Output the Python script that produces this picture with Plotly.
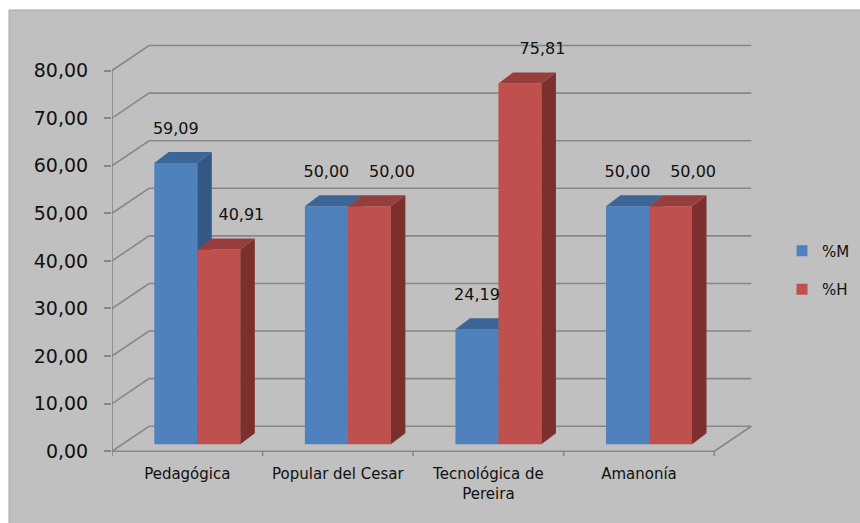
import plotly.graph_objects as go

# ---------------- data ----------------
categories = ["Pedagógica", "Popular del Cesar", "Tecnológica de<br>Pereira", "Amanonía"]
series_names = ["%M", "%H"]
values_M = [59.09, 50.00, 24.19, 50.00]
values_H = [40.91, 50.00, 75.81, 50.00]
y_tick_values = [0, 10, 20, 30, 40, 50, 60, 70, 80]

# ---------------- styling / geometry ----------------
FONT = "DejaVu Sans"
TXT = "#111111"
GRID = "#878787"
BG = "#c0c0c0"
FRONT = ["#4f81bd", "#c0504d"]
TOP = ["#3d6698", "#973e3c"]
SIDE = ["#345885", "#7c2f2d"]

W, H = 860, 523
ML, MR, MT, MB = 112, 93, 42, 67
XR = [0, 4.35]
YR = [-1, 86]
pw = W - ML - MR
ph = H - MT - MB
pxu = pw / (XR[1] - XR[0])
pyu = ph / (YR[1] - YR[0])

DX, DY = 37 / pxu, 25 / pyu          # full depth of the 3-D box
FX0, FY0 = 10 / pxu, 7 / pyu         # front plane of the bars
BX, BY = 14.5 / pxu, 11 / pyu        # bar depth
BW = 43 / pxu                        # bar width
n = len(categories)

fmt = lambda v: f"{v:.2f}".replace(".", ",")

fig = go.Figure()

def line(xs, ys, width=1.6, color=GRID):
    fig.add_trace(go.Scatter(x=xs, y=ys, mode="lines", line=dict(color=color, width=width),
                             hoverinfo="skip", showlegend=False))

# back wall gridlines + left wall diagonals
for v in y_tick_values:
    line([0, DX, n + DX], [v, v + DY, v + DY])
# floor right edge & front edge
line([n, n + DX], [0, DY])
line([0, n], [0, 0])
# front value axis
line([0, 0], [0, y_tick_values[-1]])
# category boundary ticks
for i in range(n + 1):
    line([i, i], [0, -6 / pyu])

def poly(xs, ys, color):
    fig.add_trace(go.Scatter(x=xs + [xs[0]], y=ys + [ys[0]], mode="lines", fill="toself",
                             fillcolor=color, line=dict(width=0, color=color),
                             hoverinfo="skip", showlegend=False))

for i in range(n):
    c = i + 0.5 + FX0
    for s, vals in enumerate([values_M, values_H]):
        v = vals[i]
        x0 = c - BW if s == 0 else c
        x1 = x0 + BW
        yb, yt = FY0, FY0 + v
        poly([x0, x1, x1, x0], [yb, yb, yt, yt], FRONT[s])                      # front
        poly([x1, x1 + BX, x1 + BX, x1], [yb, yb + BY, yt + BY, yt], SIDE[s])    # side
        poly([x0, x1, x1 + BX, x0 + BX], [yt, yt, yt + BY, yt + BY], TOP[s])    # top

# data labels
lab_x, lab_y, lab_t = [], [], []
for i in range(n):
    c = i + 0.5 + FX0
    lab_x += [c - BW / 2, c + BW / 2 + 0.15]
    lab_y += [values_M[i] + FY0 + 7, values_H[i] + FY0 + 7]
    lab_t += [fmt(values_M[i]), fmt(values_H[i])]
fig.add_trace(go.Scatter(x=lab_x, y=lab_y, text=lab_t, mode="text", textposition="middle center",
                         textfont=dict(family=FONT, size=16, color=TXT), hoverinfo="skip",
                         showlegend=False, cliponaxis=False))

# legend entries
for s, name in enumerate(series_names):
    fig.add_trace(go.Scatter(x=[None], y=[None], mode="markers", name=name, legendgroup=name,
                             marker=dict(symbol="square", size=11, color=FRONT[s])))

def paper_x(px):
    return (px - ML) / pw

def paper_y(py):
    return (MT + ph - py) / ph

fig.add_shape(type="rect", xref="paper", yref="paper", layer="below",
              x0=paper_x(9), x1=paper_x(W + 5), y0=paper_y(H + 5), y1=paper_y(10),
              fillcolor=BG, line=dict(color="#a8a8a8", width=1))

fig.update_layout(
    width=W, height=H,
    margin=dict(l=ML, r=MR, t=MT, b=MB, pad=0, autoexpand=False),
    paper_bgcolor="white", plot_bgcolor="rgba(0,0,0,0)",
    font=dict(family=FONT, color=TXT),
    showlegend=True,
    legend=dict(x=paper_x(782), y=paper_y(270), xanchor="left", yanchor="middle",
                bgcolor="rgba(0,0,0,0)", font=dict(size=15, family=FONT, color=TXT),
                traceorder="grouped", tracegroupgap=16, itemwidth=30),
    xaxis=dict(range=XR, showgrid=False, zeroline=False, showline=False, automargin=False,
               tickvals=[i + 0.5 for i in range(n)], ticktext=categories,
               tickfont=dict(family=FONT, size=15, color=TXT), ticks="",
               ticklabelstandoff=7, fixedrange=True),
    yaxis=dict(range=YR, showgrid=False, zeroline=False, showline=False, automargin=False,
               tickvals=y_tick_values, ticktext=[fmt(v) for v in y_tick_values],
               tickfont=dict(family=FONT, size=19, color=TXT), ticks="outside",
               ticklen=7, tickcolor=GRID, tickwidth=1.5, ticklabelstandoff=12,
               fixedrange=True),
)

fig.write_html("out.html", config={"displayModeBar": False},
               post_script="document.body.style.margin='0';document.body.style.overflow='hidden';")
